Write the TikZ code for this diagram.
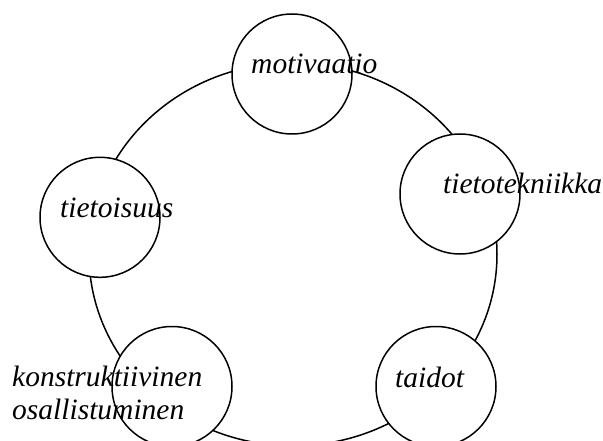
\documentclass[tikz,border=0pt]{standalone}
\usepackage{fontspec}
\setmainfont{Liberation Serif}
\usepackage{tikz}

\tikzset{
  topic/.style={circle, draw, fill=white, line width=1.5pt, minimum size=120pt, inner sep=0pt},
  label/.style={anchor=base west, inner sep=0pt, font=\itshape\fontsize{29.5}{32.5}\selectfont}
}

\begin{document}
\begin{tikzpicture}[x=1pt, y=-1pt]
  \useasboundingbox (0,0) rectangle (603,441);

  % === Ring ===
  \draw[line width=1.5pt] (293,254.3) ellipse [x radius=204, y radius=191.5];

  % === Topics ===
  \node[topic] (motiv) at (292,74) {};
  \node[topic] (tieto) at (460,194) {};
  \node[topic] (taid)  at (436,386.5) {};
  \node[topic] (konst) at (172,386.5) {};
  \node[topic] (tietoi) at (100,217.3) {};

  % Labels (text spills over the circles)
  \node[label] (motivtxt)  at (251,74)  {motivaatio};
  \node[label] (tietotxt)  at (443,194) {tietotekniikka};
  \node[label] (taidtxt)   at (395,387) {taidot};
  \node[label, align=left] (konsttxt) at (12,419) {konstruktiivinen\\osallistuminen};
  \node[label] (tietoitxt) at (60,218)  {tietoisuus};

\end{tikzpicture}
\end{document}
